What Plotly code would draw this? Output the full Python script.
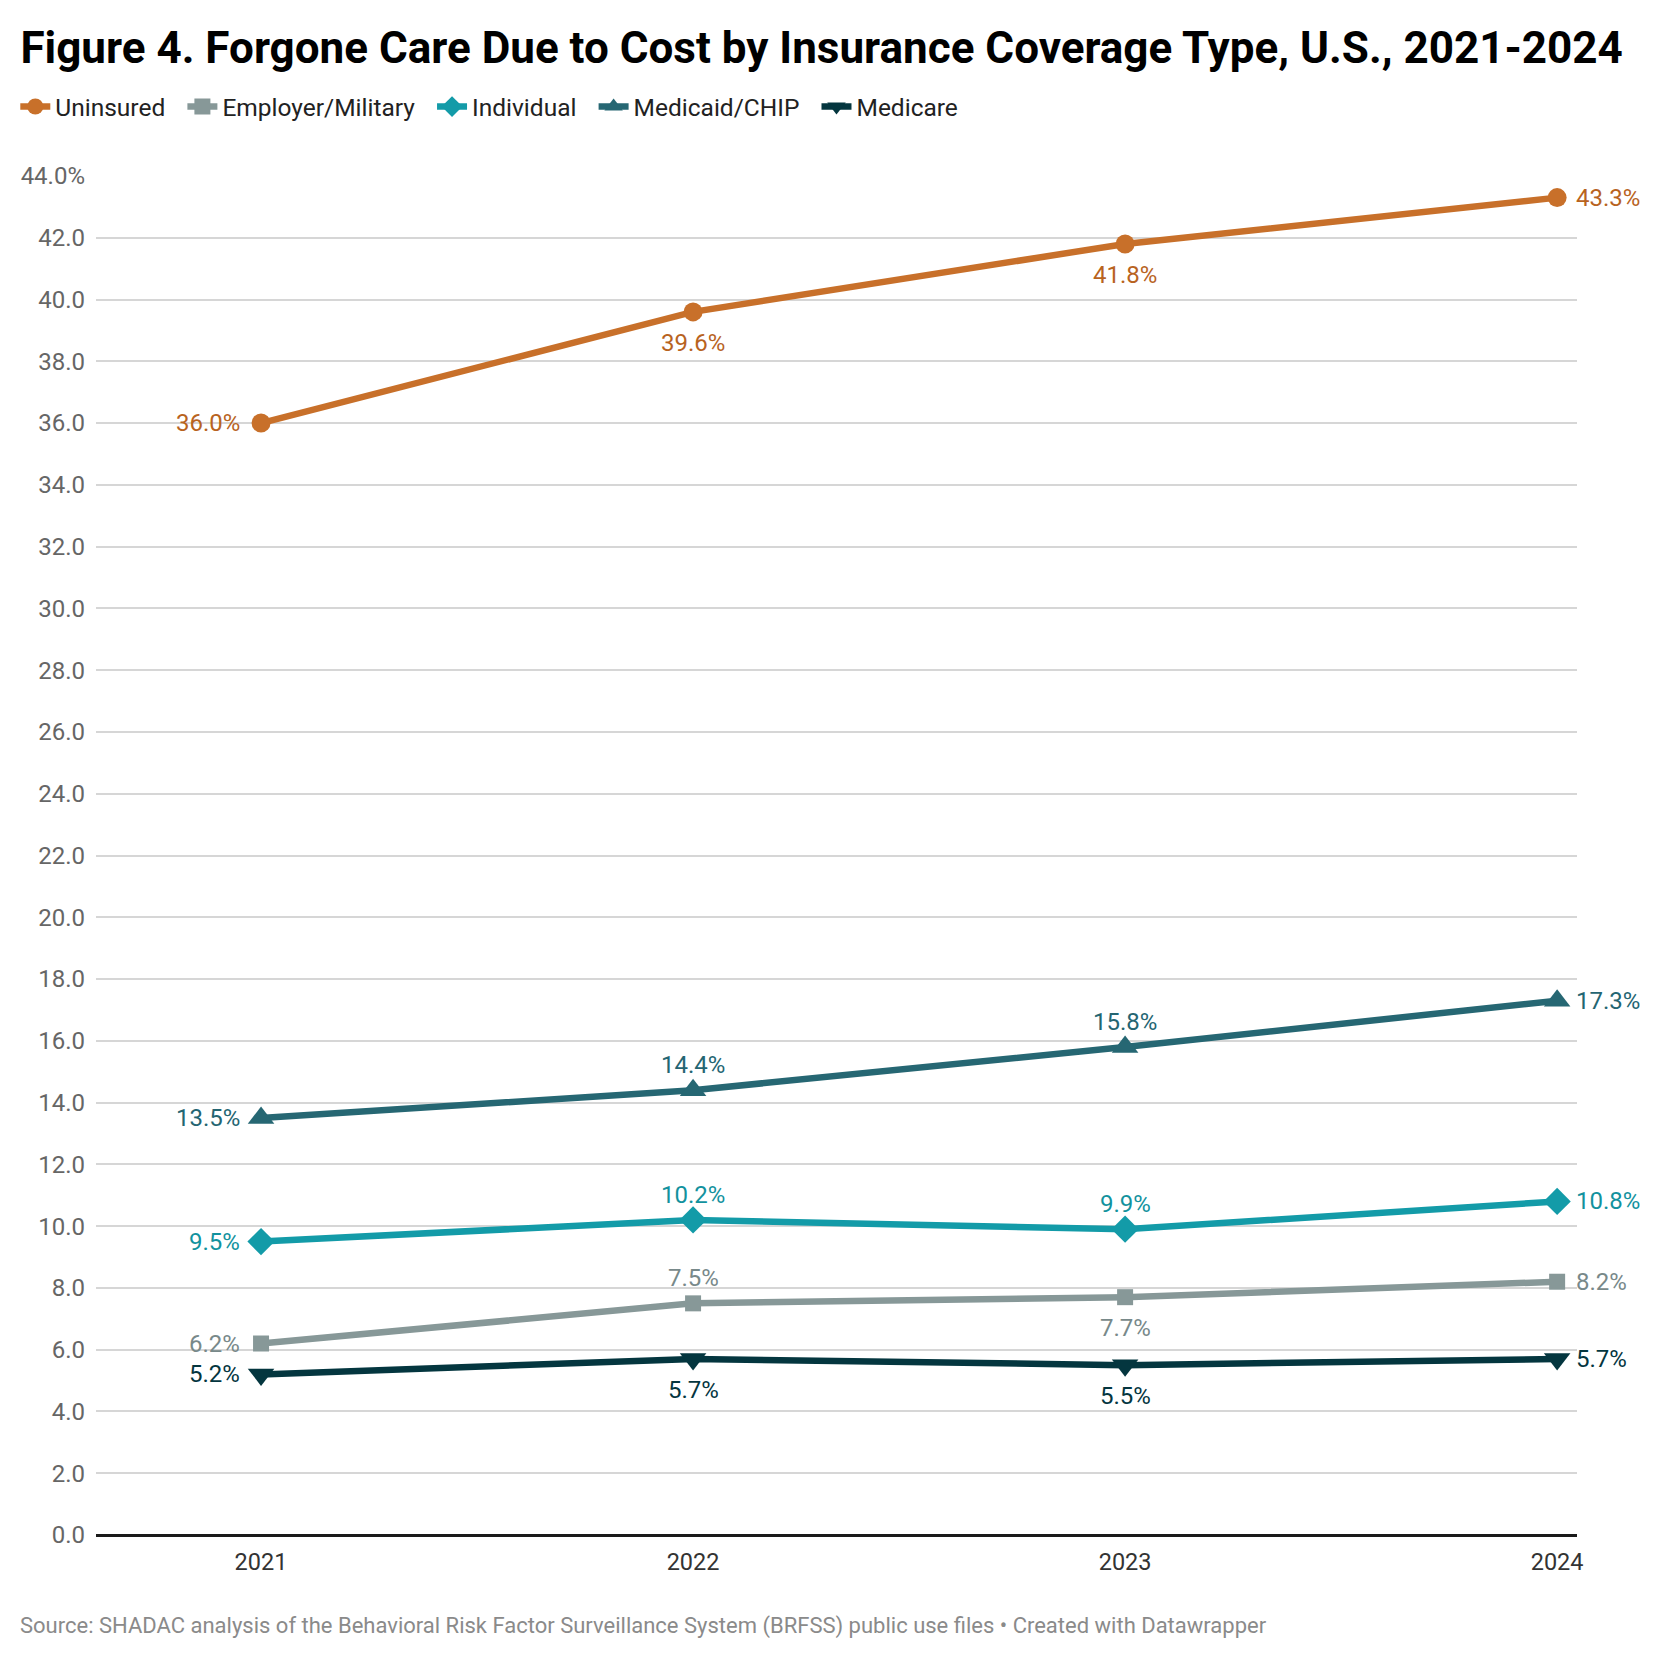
import plotly.graph_objects as go

# Data
years = [2021, 2022, 2023, 2024]
uninsured = [36.0, 39.6, 41.8, 43.3]
employer = [6.2, 7.5, 7.7, 8.2]
individual = [9.5, 10.2, 9.9, 10.8]
medicaid = [13.5, 14.4, 15.8, 17.3]
medicare = [5.2, 5.7, 5.5, 5.7]

y_ticks = [0, 2, 4, 6, 8, 10, 12, 14, 16, 18, 20, 22, 24, 26, 28, 30, 32, 34, 36, 38, 40, 42, 44]
y_ticktext = ["%.1f" % v for v in y_ticks[:-1]] + ["44.0%"]

# where each value label sits relative to its point
label_pos = {
    "Uninsured": ["left", "below", "below", "right"],
    "Employer/Military": ["left", "above", "below", "right"],
    "Individual": ["left", "above", "above", "right"],
    "Medicaid/CHIP": ["left", "above", "above", "right"],
    "Medicare": ["left", "below", "below", "right"],
}

series = [
    ("Uninsured", uninsured, "#c8702a", "#b8631e", "circle", 19),
    ("Employer/Military", employer, "#879898", "#78898a", "square", 16),
    ("Individual", individual, "#139ba8", "#12929e", "diamond", 21),
    ("Medicaid/CHIP", medicaid, "#266773", "#246572", "triangle-up", 23),
    ("Medicare", medicare, "#04363f", "#04363f", "triangle-down", 23),
]

fig = go.Figure()

for name, vals, color, label_color, symbol, size in series:
    fig.add_trace(go.Scatter(
        x=years,
        y=vals,
        # trailing no-break spaces widen the gap between legend entries
        name=name + "\u00a0\u00a0",
        mode="lines+markers",
        line=dict(color=color, width=6.5),
        marker=dict(symbol=symbol, size=size, color=color),
        cliponaxis=False,
        hoverinfo="skip",
    ))
    # value labels
    for yr, v, pos in zip(years, vals, label_pos[name]):
        kw = dict(xanchor="center", yanchor="middle", xshift=0, yshift=0)
        if pos == "left":
            kw.update(xanchor="right", xshift=-19)
        elif pos == "right":
            kw.update(xanchor="left", xshift=17)
        elif pos == "above":
            kw.update(yshift=25)
        else:
            kw.update(yshift=-31)
        fig.add_annotation(x=yr, y=v, text="%.1f%%" % v, showarrow=False,
                           font=dict(family="Roboto", size=24, color=label_color),
                           **kw)

# Source line
fig.add_annotation(
    text="Source: SHADAC analysis of the Behavioral Risk Factor Surveillance System (BRFSS) public use files • Created with Datawrapper",
    xref="paper", yref="paper", x=-0.0524, y=-0.0672,
    xanchor="left", yanchor="middle", showarrow=False,
    font=dict(family="Roboto", size=22, color="#8a8a8a"),
)

fig.update_xaxes(
    range=[2020.618, 2024.046],
    tickvals=years,
    ticktext=[str(y) for y in years],
    showgrid=False,
    zeroline=False,
    ticks="",
    ticklabelstandoff=10,
    tickfont=dict(family="Roboto", size=23.5, color="#333333"),
)

fig.update_yaxes(
    range=[0, 44],
    tickvals=y_ticks,
    ticktext=y_ticktext,
    showgrid=True,
    gridcolor="#d6d6d6",
    gridwidth=1.5,
    zeroline=True,
    zerolinecolor="#1a1a1a",
    zerolinewidth=2.5,
    ticks="",
    ticklabelstandoff=10,
    tickfont=dict(family="Roboto", size=24, color="#666666"),
)

fig.update_layout(
    width=1660,
    height=1660,
    margin=dict(l=88, r=91, t=168, b=133),
    plot_bgcolor="white",
    paper_bgcolor="white",
    font=dict(family="Roboto"),
    title=dict(
        text="Figure 4. Forgone Care Due to Cost by Insurance Coverage Type, U.S., 2021-2024",
        x=0.0075, xanchor="left", xref="container",
        y=0.9761, yanchor="middle", yref="container",
        font=dict(family="Roboto", size=44, color="#000000", weight=700),
    ),
    legend=dict(
        orientation="h",
        x=0.0044, xanchor="left", xref="container",
        y=0.9406, yanchor="middle", yref="container",
        font=dict(family="Roboto", size=24.5, color="#222222"),
        itemwidth=30,
        traceorder="normal",
    ),
    showlegend=True,
)

fig.write_html("out.html")
